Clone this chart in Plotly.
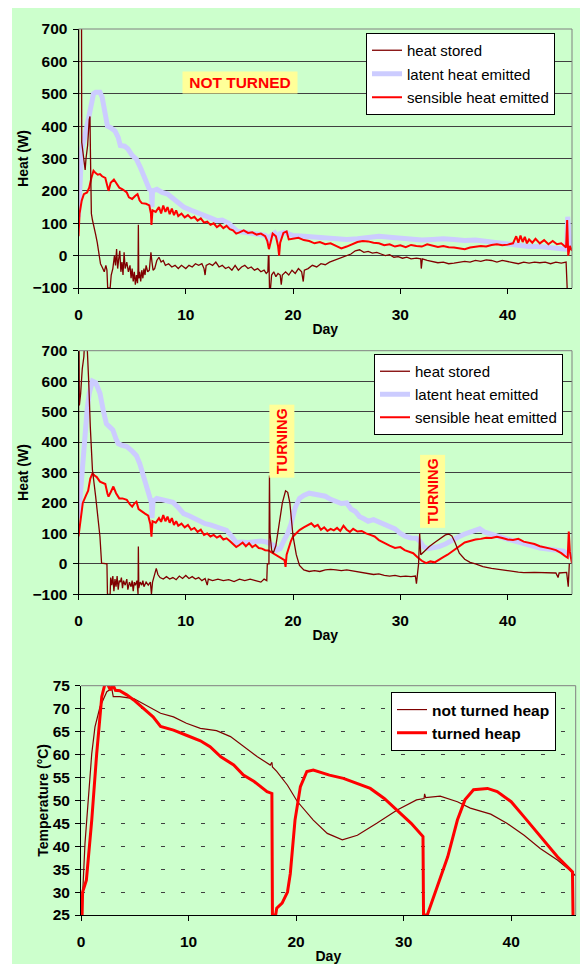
import plotly.graph_objects as go

# ---------------- data: top chart (NOT TURNED) ----------------
top_stored_day = [0, 0.02, 0.27, 0.3, 0.45, 0.55, 0.62, 0.7, 0.85, 1.0, 1.07, 1.12, 1.2, 1.3, 1.45, 1.6, 1.75,
                  1.9, 2.05, 2.2, 2.4, 2.55, 2.65, 2.72, 2.95, 3.05, 3.2, 3.35, 3.45, 3.55, 3.65, 3.75, 3.85,
                  3.95, 4.05, 4.15, 4.25, 4.35, 4.5, 4.65, 4.8, 4.9, 5.0, 5.1, 5.2, 5.3, 5.4, 5.5, 5.55, 5.58,
                  5.62, 5.7, 5.8, 5.9, 6.0, 6.1, 6.2, 6.3, 6.45, 6.6, 6.75, 6.85, 6.95, 7.1, 7.3, 7.5, 7.7,
                  7.9, 8.1, 8.4, 8.7, 9.0, 9.3, 9.6, 10, 10.3, 10.6, 10.9, 11.2, 11.5, 11.7, 11.8, 11.9, 12.2,
                  12.5, 12.8, 13.1, 13.4, 13.7, 14.0, 14.3, 14.6, 14.9, 15.2, 15.5, 15.8, 16.1, 16.4, 16.7,
                  17.0, 17.3, 17.5, 17.65, 17.7, 17.75, 17.8, 17.9, 18.0, 18.2, 18.4, 18.6, 18.8, 18.9, 19.0,
                  19.3, 19.6, 19.9, 20.2, 20.5, 20.8, 20.95, 21.05, 21.4, 21.8, 22.2, 22.6, 23.0, 23.4, 23.8,
                  24.2, 24.6, 25.0, 25.4, 25.8, 26.2, 26.6, 27.0, 27.4, 27.8, 28.2, 28.6, 29.0, 29.4, 29.8,
                  30.2, 30.6, 31.0, 31.5, 31.9, 31.95, 32.05, 32.5, 33, 33.5, 34, 34.5, 35, 35.5, 36, 36.5,
                  37, 37.5, 38, 38.5, 39, 39.5, 40, 40.5, 41, 41.5, 42, 42.5, 43, 43.5, 44, 44.5, 45, 45.45,
                  45.5, 45.55]
top_stored_w = [120, 1000, 1000, 350, 310, 280, 265, 300, 340, 420, 430, 300, 130, 110, 90, 65, 40,
                10, -25, -35, -50, -30, -45, -100, -100, -60, -40, 0, -30, 20, -40, -10, 15,
                -50, -20, -60, 10, -40, -20, -50, -30, -70, -40, -80, -50, -90, -60, -85, -40, 95,
                -70, -50, -80, -45, -70, -40, -60, -30, -50, -45, 10, -20, -45, -40, -15, -5, -20,
                -15, -30, -25, -35, -30, -40, -30, -40, -30, -35, -25, -30, -25, -40, -60, -30, -25,
                -30, -20, -35, -30, -40, -35, -45, -30, -45, -35, -30, -40, -35, -45, -40,
                -50, -45, -55, -50, 0, 0, -100, -100, -60, -50, -65, -55, -60, -90, -60,
                -50, -60, -45, -55, -40, -50, -80, -45, -40, -30, -35, -25, -28, -20, -15,
                -10, -5, 2, 5, 15, 18, 10, 13, 8, 10, 5, 0, 3, -5, -3,
                -8, -5, -10, -8, -10, -40, -10, -15, -18, -22, -20, -25, -23, -20, -18, -20,
                -15, -18, -13, -15, -20, -15, -18, -20, -25, -20, -23, -20, -22, -20, -25, -20, -23, -20,
                -100, -100]

top_latent_day = [0, 0.15, 0.3, 0.6, 0.9, 1.2, 1.4, 1.6, 2.0, 2.2, 2.5, 2.7, 3.0, 3.4, 3.7, 3.9, 4.3, 4.6,
                  5.0, 5.4, 5.8, 6.2, 6.6, 6.8, 6.85, 6.9, 7.3, 7.8, 8.3, 8.8, 9.3, 9.8, 10.5, 11.2, 11.8,
                  12.4, 12.9, 13.4, 14.0, 14.5, 14.8, 15.5, 16.2, 16.8, 17.4, 17.7, 17.8, 17.9, 18.3, 18.6,
                  18.8, 19.2, 19.6, 20, 21, 22, 23, 24, 25, 26, 27, 28, 29, 30, 31, 32, 33, 34, 35, 36, 37,
                  38, 39, 40, 41, 42, 43, 44, 45, 45.5, 45.6, 45.8, 46]
top_latent_w = [120, 250, 330, 370, 420, 480, 500, 505, 505, 490, 430, 400, 395, 385, 365, 340, 338, 330,
                310, 298, 270, 235, 205, 200, 150, 200, 205, 195, 190, 175, 160, 150, 140, 132, 125,
                115, 108, 110, 100, 85, 75, 72, 68, 65, 63, 50, 38, 60, 70, 55,
                68, 72, 65, 62, 60, 58, 56, 52, 50, 52, 55, 60, 57, 55, 52, 48, 50, 52, 50, 47, 48,
                45, 40, 36, 32, 28, 28, 25, 25, 20, 120, 35, 30]

top_sens_day = [0, 0.1, 0.3, 0.5, 0.8, 1.0, 1.2, 1.4, 1.6, 1.8, 2.0, 2.2, 2.5, 2.7, 2.8, 3.0, 3.3, 3.5, 3.8,
                4.1, 4.5, 4.7, 5.0, 5.3, 5.5, 5.7, 5.9, 6.3, 6.6, 6.75, 6.8, 6.9, 7.2, 7.5, 7.7, 7.9, 8.1,
                8.3, 8.5, 8.7, 8.9, 9.1, 9.3, 9.6, 9.9, 10.2, 10.5, 10.8, 11.1, 11.4, 11.7, 12.0, 12.3,
                12.6, 12.9, 13.2, 13.5, 13.8, 14.1, 14.4, 14.7, 15.0, 15.4, 15.8, 16.2, 16.6, 17.0, 17.4,
                17.6, 17.75, 17.9, 18.1, 18.4, 18.6, 18.7, 18.8, 19.1, 19.4, 19.6, 20.0, 20.5, 21.0, 21.5,
                22.0, 22.5, 23.0, 23.5, 24.0, 24.5, 25.0, 25.5, 26.0, 26.5, 27.0, 27.5, 28.0, 28.5, 29.0,
                29.5, 30.0, 30.5, 31.0, 31.5, 32.0, 32.5, 33.0, 33.5, 34.0, 34.5, 35.0, 35.5, 36.0, 36.5,
                37.0, 37.5, 38.0, 38.5, 39.0, 39.5, 40.0, 40.5, 40.8, 41.0, 41.2, 41.4, 41.6, 41.8, 42.0,
                42.3, 42.6, 43.0, 43.4, 43.8, 44.2, 44.6, 45.0, 45.3, 45.45, 45.55, 45.65, 45.8, 46]
top_sens_w = [60, 130, 170, 190, 195, 210, 240, 262, 255, 250, 252, 245, 240, 215, 200, 225, 235, 225, 210,
              205, 195, 180, 175, 185, 190, 170, 162, 160, 155, 130, 95, 140, 135, 150, 130, 155, 135,
              150, 128, 145, 125, 140, 122, 130, 118, 125, 115, 120, 108, 115, 102, 105, 95,
              100, 88, 95, 85, 92, 82, 78, 68, 72, 78, 70, 72, 65, 68, 60,
              45, 20, 40, 68, 60, 30, 0, 40, 70, 75, 50, 52, 55, 48, 45,
              38, 42, 35, 38, 30, 22, 28, 35, 42, 45, 44, 40, 38, 32, 35,
              28, 32, 26, 33, 30, 28, 35, 30, 27, 30, 26, 25, 22, 20, 25,
              28, 30, 28, 33, 35, 32, 34, 38, 60, 40, 62, 42, 58, 38, 50,
              40, 52, 38, 48, 35, 45, 35, 38, 30, 25, 110, 0, 30, 15]

# ---------------- data: middle chart (TURNED) ----------------
mid_stored_day = [0, 0.02, 0.08, 0.2, 0.35, 0.5, 0.6, 0.75, 0.85, 0.95, 1.1, 1.3, 1.6, 1.8, 2.0, 2.15, 2.4,
                  2.65, 2.7, 2.95, 3.0, 3.1, 3.2, 3.3, 3.4, 3.5, 3.6, 3.7, 3.8, 3.9, 4.0, 4.1, 4.2, 4.35,
                  4.5, 4.6, 4.75, 4.9, 5.0, 5.1, 5.2, 5.3, 5.45, 5.55, 5.58, 5.62, 5.75, 5.9, 6.0, 6.1, 6.3,
                  6.5, 6.7, 6.8, 6.9, 7.1, 7.25, 7.4, 7.6, 7.9, 8.2, 8.5, 8.8, 9.1, 9.4, 9.7, 10.0, 10.3,
                  10.6, 10.9, 11.2, 11.5, 11.8, 12.0, 12.1, 12.5, 13.0, 13.5, 14.0, 14.5, 15.0, 15.5, 16.0,
                  16.5, 17.0, 17.3, 17.55, 17.6, 17.75, 17.8, 17.85, 18.0, 18.15, 18.4, 18.7, 19.0, 19.3,
                  19.5, 19.7, 19.85, 20.0, 20.3, 20.6, 21.0, 21.5, 22.0, 22.5, 23.0, 23.5, 24.0, 24.5, 25.0,
                  25.5, 26.0, 26.5, 27.0, 27.5, 28.0, 28.5, 29.0, 29.5, 30.0, 30.5, 31.0, 31.4, 31.5, 31.55,
                  31.7, 31.8, 31.9, 32.2, 32.7, 33.2, 33.7, 34.2, 34.5, 34.8, 35.1, 35.5, 36.0, 36.5, 37.0,
                  37.7, 38.5, 39.0, 40.0, 41.0, 41.5, 42.5, 43.5, 44.5, 44.7, 44.8, 45.5, 45.65, 45.75]
mid_stored_w = [-100, 1000, 520, 560, 640, 680, 750, 760, 700, 600, 450, 308, 221, 150, 89, 2, 0,
                0, -100, -100, -45, -70, -40, -90, -50, -75, -40, -85, -55, -60, -45, -80, -55, -70,
                -50, -85, -60, -75, -55, -90, -60, -70, -55, -100, 57, -80, -60, -70, -55, -75, -60,
                -70, -60, -100, -60, -30, -15, -35, -45, -50, -42, -50, -45, -52, -40, -48, -38, -48,
                -42, -50, -45, -55, -48, -70, -50, -55, -50, -55, -52, -58, -50, -55, -50,
                -55, -60, -50, -55, 0, 0, 290, 100, 45, 35, 60, 130, 200, 240,
                235, 200, 150, 90, 30, -5, -20, -25, -22, -25, -20, -18, -20, -22, -20,
                -23, -25, -28, -30, -35, -33, -38, -40, -38, -42, -40, -42, -40, -65, -40,
                0, 100, 30, 40, 57, 70, 84, 95, 98, 92, 70, 35, 15, 5, 0,
                -9, -15, -18, -22, -27, -29, -28, -30, -30, -45, -30, -28, -75, 0]

mid_latent_day = [0, 0.2, 0.5, 0.8, 1.0, 1.3, 1.6, 1.8, 2.0, 2.3, 2.6, 2.9, 3.2, 3.5, 3.7, 4.0, 4.5, 5.0,
                  5.4, 5.7, 6.0, 6.3, 6.6, 6.8, 6.85, 6.95, 7.3, 7.8, 8.3, 8.8, 9.3, 9.8, 10.3, 10.8, 11.3,
                  11.8, 12.3, 12.8, 13.3, 13.8, 14.3, 14.7, 15.2, 15.8, 16.4, 17.0, 17.5, 17.8, 18.2, 18.5,
                  18.8, 19.2, 19.5, 19.8, 20.2, 20.6, 21.0, 21.5, 22.0, 22.5, 23.0, 23.5, 24.0, 24.5, 25.0,
                  25.4, 25.8, 26.2, 26.6, 27.0, 27.5, 28.0, 28.5, 29.0, 29.5, 30.0, 30.5, 31.0, 31.5, 31.8,
                  32.2, 32.6, 33.0, 33.6, 34.2, 34.8, 35.4, 36.0, 36.6, 37.0, 37.4, 37.8, 38.4, 39.0, 39.6,
                  40.2, 40.8, 41.5, 42.2, 43.0, 43.8, 44.6, 45.2, 45.5, 45.7, 46.0]
mid_latent_w = [150, 250, 400, 505, 560, 600, 595, 580, 560, 505, 460, 450, 440, 410, 395, 390, 385, 370,
                355, 330, 297, 260, 225, 200, 150, 205, 215, 212, 208, 202, 185, 165, 158, 148, 140,
                132, 128, 122, 118, 110, 90, 70, 72, 70, 73, 75, 72, 68, 60, 45,
                50, 80, 100, 130, 185, 215, 225, 232, 230, 228, 222, 212, 205, 198, 200,
                180, 172, 155, 148, 140, 145, 138, 130, 122, 115, 100, 90, 85, 84, 75,
                55, 50, 52, 57, 65, 78, 88, 98, 105, 108, 115, 105, 100, 92, 85,
                80, 75, 67, 60, 52, 48, 46, 42, 35, 30, 25]

mid_sens_day = [0, 0.2, 0.4, 0.7, 0.9, 1.1, 1.3, 1.5, 1.7, 2.0, 2.3, 2.5, 2.7, 2.8, 3.0, 3.25, 3.5, 3.8,
                4.1, 4.5, 4.8, 5.0, 5.2, 5.4, 5.6, 5.9, 6.2, 6.5, 6.7, 6.8, 6.9, 7.2, 7.5, 7.7, 7.9, 8.1,
                8.3, 8.5, 8.7, 8.9, 9.1, 9.3, 9.6, 9.9, 10.2, 10.5, 10.8, 11.1, 11.4, 11.7, 12.0, 12.3,
                12.6, 12.9, 13.2, 13.5, 13.8, 14.1, 14.4, 14.7, 15.0, 15.3, 15.6, 15.9, 16.2, 16.5, 16.8,
                17.1, 17.4, 17.7, 19.2, 19.3, 19.4, 19.6, 19.8, 20.0, 20.3, 20.6, 21.0, 21.3, 21.7, 22.0,
                22.3, 22.6, 22.9, 23.2, 23.5, 23.8, 24.1, 24.4, 24.7, 25.0, 25.3, 25.6, 26.0, 26.4, 26.8,
                27.2, 27.6, 28.0, 28.5, 29.0, 29.5, 30.0, 30.4, 30.8, 31.2, 31.6, 32.0, 32.4, 32.8, 33.2,
                33.6, 34.0, 34.4, 34.8, 35.2, 35.6, 36.0, 36.5, 37.0, 37.5, 38.0, 38.5, 39.0, 39.5, 40.0,
                40.5, 41.0, 41.5, 42.0, 42.5, 43.0, 43.5, 44.0, 44.5, 45.0, 45.4, 45.6, 45.7, 45.8, 46.0]
mid_sens_w = [90, 140, 200, 225, 240, 280, 297, 290, 285, 270, 265, 262, 230, 221, 235, 254, 232, 215,
              215, 210, 195, 188, 198, 204, 180, 171, 165, 158, 130, 89, 140, 135, 150, 138, 160, 140,
              155, 135, 150, 128, 140, 125, 132, 120, 128, 112, 118, 105, 112, 95, 100, 90,
              95, 86, 92, 80, 84, 75, 65, 55, 62, 70, 58, 68, 55, 62, 52,
              50, 45, 44, 12, -10, 30, 55, 75, 90, 100, 111, 120, 125, 133, 122,
              128, 112, 120, 108, 115, 110, 118, 108, 125, 112, 105, 115, 106, 108, 100,
              95, 90, 78, 68, 60, 52, 55, 45, 40, 35, 22, 10, 2, 8, 5,
              15, 22, 30, 40, 52, 62, 70, 75, 80, 82, 86, 85, 89, 85, 80,
              78, 82, 73, 70, 65, 58, 55, 50, 45, 35, 24, 20, 106, 40, 2]

# ---------------- data: bottom chart (temperature) ----------------
nt_day = [0, 0.16, 0.37, 0.68, 1.0, 1.3, 1.77, 2.4, 2.86, 3.0, 3.6, 4.9, 5.8, 7.4, 8.6, 9.8, 11.1, 12.6,
          13.9, 15.1, 16.4, 17.6, 17.75, 17.8, 18.2, 19.2, 20.1, 21.6, 22.9, 24.3, 25.7, 27.5, 29.4, 31.2,
          31.9, 31.95, 32.05, 33.4, 35.0, 36.2, 38.1, 39.6, 41.2, 42.7, 44.3, 45.7, 46.0]
nt_temp = [25, 30, 40.6, 49.3, 60.2, 66, 70.4, 73.7, 74.4, 72.6, 72.6, 72.2, 71.1, 69, 68.2, 66.8, 65.7, 65.2,
           63.9, 61.7, 59.5, 57.7, 58.3, 57.3, 56.3, 53.3, 49.8, 45.7, 42.8, 41.4, 42.4, 45, 47.9, 50.1,
           50.4, 51.4, 50.6, 50.9, 49.7, 48.3, 47, 45, 42.4, 39.5, 37, 34.3, 33.5]

t_day = [0, 0.1, 0.15, 0.5, 1.0, 1.46, 1.93, 2.24, 2.5, 2.75, 2.95, 3.2, 3.6, 4.25, 4.9, 5.8, 6.7, 7.4,
         8.6, 9.8, 11.1, 12.0, 13.0, 14.2, 15.1, 16.1, 17.3, 17.75, 17.8, 18.1, 18.2, 18.7, 19.2, 19.46,
         19.9, 20.4, 21.0, 21.6, 23.1, 24.4, 25.7, 26.9, 28.2, 29.4, 30.7, 31.8, 31.85, 32.2, 33.1, 34.1,
         35.0, 35.7, 36.5, 37.8, 38.7, 40.0, 41.2, 42.7, 44.3, 45.7, 45.75]
t_temp = [25, 25, 30, 32.6, 45.7, 60.2, 72.6, 75.5, 75.2, 74, 75.3, 74, 73.9, 73, 71.9, 70.1, 68.2, 66.1,
          65.3, 64.2, 63, 61.7, 59.5, 57.7, 55.5, 54.1, 51.9, 51.5, 25, 25, 26.5, 27.6, 30, 34,
          45.7, 53, 56.3, 56.6, 55.5, 54.8, 53.7, 52.6, 50.4, 47.9, 45, 42.1, 25, 25, 31.2, 37.7,
          45.7, 50.1, 52.3, 52.6, 51.9, 49.7, 46.4, 42.1, 37.7, 34.4, 25]

day_ticks = [0, 10, 20, 30, 40]
heat_ticks = [-100, 0, 100, 200, 300, 400, 500, 600, 700]
temp_ticks = [25, 30, 35, 40, 45, 50, 55, 60, 65, 70, 75]

# ---------------- styling ----------------
# the page adds an 8 px body margin, so the figure is 8 px smaller than the window
OFF = 8
W, H = 588 - OFF, 964 - OFF
BG = "#CCFFCC"
FONT = "Liberation Sans, Arial, sans-serif"
C_STORED = "#800000"
C_LATENT = "#CCCCFF"
C_SENS = "#FF0000"


def fx(p):
    return (p - OFF) / W


def fy(p):
    return 1 - (p - OFF) / H


fig = go.Figure()

# top chart traces
fig.add_trace(go.Scatter(x=top_latent_day, y=top_latent_w, mode="lines", name="latent heat emitted",
                         line=dict(color=C_LATENT, width=5), xaxis="x", yaxis="y", legend="legend",
                         legendgroup="a2", legendrank=2))
fig.add_trace(go.Scatter(x=top_sens_day, y=top_sens_w, mode="lines", name="sensible heat emitted",
                         line=dict(color=C_SENS, width=2), xaxis="x", yaxis="y", legend="legend",
                         legendgroup="a3", legendrank=3))
fig.add_trace(go.Scatter(x=top_stored_day, y=top_stored_w, mode="lines", name="heat stored",
                         line=dict(color=C_STORED, width=1.3), xaxis="x", yaxis="y", legend="legend",
                         legendgroup="a1", legendrank=1))

# middle chart traces
fig.add_trace(go.Scatter(x=mid_latent_day, y=mid_latent_w, mode="lines", name="latent heat emitted",
                         line=dict(color=C_LATENT, width=5), xaxis="x2", yaxis="y2", legend="legend2",
                         legendgroup="b2", legendrank=2))
fig.add_trace(go.Scatter(x=mid_sens_day, y=mid_sens_w, mode="lines", name="sensible heat emitted",
                         line=dict(color=C_SENS, width=2), xaxis="x2", yaxis="y2", legend="legend2",
                         legendgroup="b3", legendrank=3))
fig.add_trace(go.Scatter(x=mid_stored_day, y=mid_stored_w, mode="lines", name="heat stored",
                         line=dict(color=C_STORED, width=1.3), xaxis="x2", yaxis="y2", legend="legend2",
                         legendgroup="b1", legendrank=1))

# bottom chart traces
fig.add_trace(go.Scatter(x=nt_day, y=nt_temp, mode="lines", name="not turned heap",
                         line=dict(color=C_STORED, width=1.2), xaxis="x3", yaxis="y3", legend="legend3",
                         legendgroup="c1"))
fig.add_trace(go.Scatter(x=t_day, y=t_temp, mode="lines", name="turned heap",
                         line=dict(color=C_SENS, width=3), xaxis="x3", yaxis="y3", legend="legend3",
                         legendgroup="c2"))

tickfont = dict(family=FONT, size=15.5, color="black", weight="bold")
titlefont = dict(family=FONT, size=14, color="black", weight="bold")


def xax(domain_px, anchor, standoff):
    return dict(domain=[fx(domain_px[0]), fx(domain_px[1])], anchor=anchor, range=[0, 46],
                tickvals=day_ticks, ticks="outside", ticklen=5, tickcolor="black", showline=True,
                linecolor="black", linewidth=1, showgrid=False, zeroline=False, tickfont=tickfont,
                ticklabelstandoff=7, automargin=False,
                title=dict(text="Day", font=titlefont, standoff=standoff))


def yax(domain_px, anchor, rng, ticks, title, standoff, dash=None):
    d = dict(domain=[fy(domain_px[1]), fy(domain_px[0])], anchor=anchor, range=rng, tickvals=ticks,
             ticks="outside", ticklen=5, tickcolor="black", showline=True, linecolor="black",
             linewidth=1, showgrid=True, gridcolor="#404040", gridwidth=1, zeroline=False,
             tickfont=tickfont, ticklabelstandoff=2, automargin=False,
             title=dict(text=title, font=titlefont, standoff=standoff))
    if dash:
        d["griddash"] = dash
    return d


top_x = (78.5, 572)
top_y = (29, 288)
mid_x = (78.5, 572)
mid_y = (350.7, 594.3)
bot_x = (81, 575.7)
bot_y = (685.7, 915)

legend_common = dict(bgcolor="white", bordercolor="black", borderwidth=1, xanchor="left", yanchor="top",
                     traceorder="grouped", itemwidth=30)

fig.update_layout(
    width=W, height=H,
    margin=dict(l=0, r=0, t=0, b=0),
    paper_bgcolor=BG, plot_bgcolor=BG,
    font=dict(family=FONT, color="black"),
    xaxis=xax(top_x, "y", 2),
    yaxis=yax(top_y, "x", [-100, 700], heat_ticks, "Heat (W)", 0),
    xaxis2=xax(mid_x, "y2", 2),
    yaxis2=yax(mid_y, "x2", [-100, 700], heat_ticks, "Heat (W)", 0),
    xaxis3=xax(bot_x, "y3", 2),
    yaxis3=yax(bot_y, "x3", [25, 75], temp_ticks, "Temperature (°C)", 0, dash="4px,16px"),
    legend=dict(legend_common, x=fx(366), y=fy(33), tracegroupgap=1,
                font=dict(family=FONT, size=15, color="black")),
    legend2=dict(legend_common, x=fx(374), y=fy(354), tracegroupgap=0.5,
                 font=dict(family=FONT, size=15, color="black")),
    legend3=dict(legend_common, x=fx(391), y=fy(692), tracegroupgap=0,
                 font=dict(family=FONT, size=15.5, color="black", weight="bold")),
    showlegend=True,
)

# gray top/right plot-area borders and the white strip on the left
shapes = []
for xa, ya in (("x", "y"), ("x2", "y2"), ("x3", "y3")):
    shapes.append(dict(type="line", xref=f"{xa} domain", yref=f"{ya} domain", x0=0, x1=1, y0=1, y1=1,
                       line=dict(color="#808080", width=1), layer="above"))
    shapes.append(dict(type="line", xref=f"{xa} domain", yref=f"{ya} domain", x0=1, x1=1, y0=0, y1=1,
                       line=dict(color="#808080", width=1), layer="above"))
shapes.append(dict(type="rect", xref="paper", yref="paper", x0=0, x1=4 / W, y0=0, y1=1,
                   line=dict(width=0), fillcolor="white", layer="below"))
fig.update_layout(shapes=shapes)

ann_font = dict(family=FONT, size=15.5, color="#FF0000", weight="bold")
fig.add_annotation(x=15.05, y=535, xref="x", yref="y", text="NOT TURNED", showarrow=False,
                   font=ann_font, bgcolor="#FFFF99", width=110, height=17, borderpad=2)
fig.add_annotation(x=18.97, y=403, xref="x2", yref="y2", text="TURNING", showarrow=False,
                   font=dict(ann_font, size=14.5), bgcolor="#FFFF99", textangle=-90, width=68, height=20,
                   borderpad=2)
fig.add_annotation(x=33.04, y=238, xref="x2", yref="y2", text="TURNING", showarrow=False,
                   font=dict(ann_font, size=14.5), bgcolor="#FFFF99", textangle=-90, width=68, height=20,
                   borderpad=2)

fig.write_html("out.html")
